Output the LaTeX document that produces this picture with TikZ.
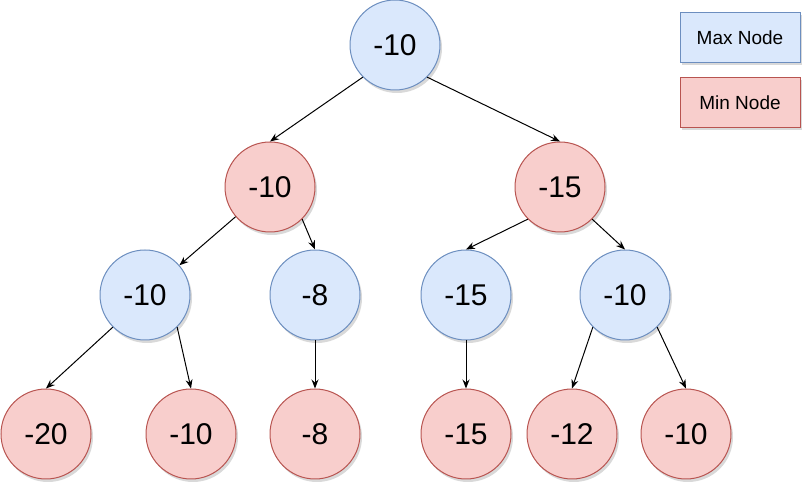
\documentclass[tikz,border=0pt]{standalone}
\usepackage{fontspec}
\setmainfont{Liberation Sans}
\usetikzlibrary{arrows.meta,shadows}
\definecolor{maxfill}{HTML}{DAE8FC}
\definecolor{maxline}{HTML}{6C8EBF}
\definecolor{minfill}{HTML}{F8CECC}
\definecolor{minline}{HTML}{B85450}
\begin{document}
\begin{tikzpicture}[x=1pt,y=-1pt,
  shad/.style={drop shadow={shadow xshift=2pt,shadow yshift=-3pt,opacity=0.25,fill=black!60}},
  base/.style={circle,minimum size=90pt,inner sep=0pt,line width=1pt,font=\fontsize{30}{36}\selectfont,shad},
  maxn/.style={base,fill=maxfill,draw=maxline},
  minn/.style={base,fill=minfill,draw=minline},
  legend/.style={rectangle,minimum width=120pt,minimum height=50pt,inner sep=0pt,line width=1pt,font=\fontsize{19}{23}\selectfont,shad},
  edge/.style={line width=1pt,-{Stealth[length=9pt,width=7pt,inset=3pt]}}]
\useasboundingbox (0,0) rectangle (807,486);
% legend
\node[legend,fill=maxfill,draw=maxline] (lmax) at (740,37.5) {Max Node};
\node[legend,fill=minfill,draw=minline] (lmin) at (740,102.5) {Min Node};
% tree
\node[maxn] (root) at (395,45) {-10};
\node[minn] (l1a) at (270,187) {-10};
\node[minn] (l1b) at (560,187) {-15};
\node[maxn] (l2a) at (145,295) {-10};
\node[maxn] (l2b) at (315,295) {-8};
\node[maxn] (l2c) at (466,295) {-15};
\node[maxn] (l2d) at (625,295) {-10};
\node[minn] (l3a) at (46,434) {-20};
\node[minn] (l3b) at (191,434) {-10};
\node[minn] (l3c) at (315,434) {-8};
\node[minn] (l3d) at (466,434) {-15};
\node[minn] (l3e) at (572,434) {-12};
\node[minn] (l3f) at (686,434) {-10};
% edges
\draw[edge] (root.225) -- (l1a.90);
\draw[edge] (root.315) -- (l1b.90);
\draw[edge] (l1a) -- (l2a);
\draw[edge] (l1a.315) -- (l2b.90);
\draw[edge] (l1b.225) -- (l2c.90);
\draw[edge] (l1b.315) -- (l2d.90);
\draw[edge] (l2a.225) -- (l3a.90);
\draw[edge] (l2a.315) -- (l3b.90);
\draw[edge] (l2b) -- (l3c);
\draw[edge] (l2c) -- (l3d);
\draw[edge] (l2d.225) -- (l3e.90);
\draw[edge] (l2d.315) -- (l3f.90);
\end{tikzpicture}
\end{document}
